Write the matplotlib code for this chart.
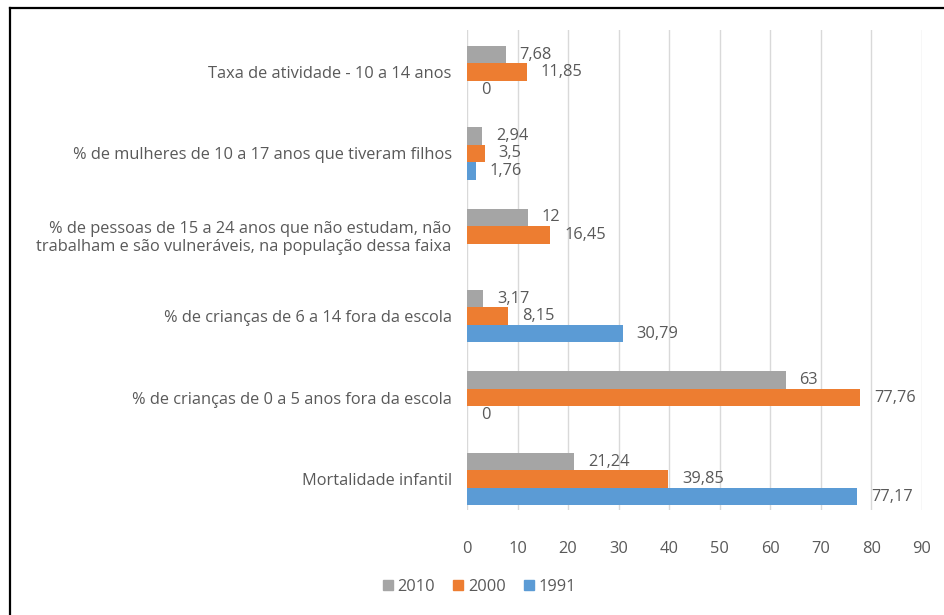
import numpy as np
import matplotlib
matplotlib.use("Agg")
import matplotlib.pyplot as plt
from matplotlib.lines import Line2D

plt.rcParams['font.family'] = ['Open Sans', 'DejaVu Sans']

categories = [
    "Mortalidade infantil",
    "% de crianças de 0 a 5 anos fora da escola",
    "% de crianças de 6 a 14 fora da escola",
    "% de pessoas de 15 a 24 anos que não estudam, não\ntrabalham e são vulneráveis, na população dessa faixa",
    "% de mulheres de 10 a 17 anos que tiveram filhos",
    "Taxa de atividade - 10 a 14 anos",
]
years = ["2010", "2000", "1991"]
values_2010 = [21.24, 63, 3.17, 12, 2.94, 7.68]
values_2000 = [39.85, 77.76, 8.15, 16.45, 3.5, 11.85]
values_1991 = [77.17, 0, 30.79, None, 1.76, 0]
colors = ["#a5a5a5", "#ed7d31", "#5b9bd5"]

text_color = "#595959"
fs = 11.8

fig = plt.figure(figsize=(9.44, 6.15), dpi=100)
ax = fig.add_axes([467 / 944, 1 - 510 / 615, 455 / 944, 480 / 615])

y = np.arange(len(categories))
bar_h = 0.215
offsets = [bar_h, 0, -bar_h]
series = [values_2010, values_2000, values_1991]

for vals, off, col, name in zip(series, offsets, colors, years):
    for yi, v in zip(y, vals):
        if v is None:
            continue
        ax.barh(yi + off, v, height=bar_h, color=col, zorder=3)
        txt = "{0:g}".format(v).replace(".", ",")
        ax.annotate(txt, (v, yi + off), xytext=(10, 0),
                    textcoords="offset points", va="center", ha="left",
                    fontsize=fs, color=text_color)

ax.set_xlim(0, 90)
ax.set_ylim(-0.38, 5.516)
ax.set_xticks(np.arange(0, 91, 10))
ax.set_yticks(y)
ax.set_yticklabels(categories, fontsize=fs, color=text_color)
ax.tick_params(axis="both", length=0, labelsize=fs, labelcolor=text_color)
ax.tick_params(axis="y", pad=11)
ax.tick_params(axis="x", pad=22)
ax.xaxis.grid(True, color="#d9d9d9", linewidth=1, zorder=0)
for side in ["top", "right", "bottom", "left"]:
    ax.spines[side].set_visible(False)

handles = [plt.Rectangle((0, 0), 1, 1, color=c) for c in colors]
fig.legend(handles, years, loc="center", bbox_to_anchor=(0.508, 1 - 587 / 615),
           ncol=3, frameon=False, fontsize=fs, labelcolor=text_color,
           handlelength=0.6, handleheight=0.6, handletextpad=0.3,
           columnspacing=1.1)

# outer frame lines
fig.add_artist(Line2D([9.5 / 944, 1], [1 - 7.5 / 615] * 2, color="black",
                      linewidth=1.6, transform=fig.transFigure))
fig.add_artist(Line2D([9.5 / 944] * 2, [0, 1 - 7.5 / 615], color="black",
                      linewidth=1.6, transform=fig.transFigure))

fig.savefig("out.png", dpi=100)
